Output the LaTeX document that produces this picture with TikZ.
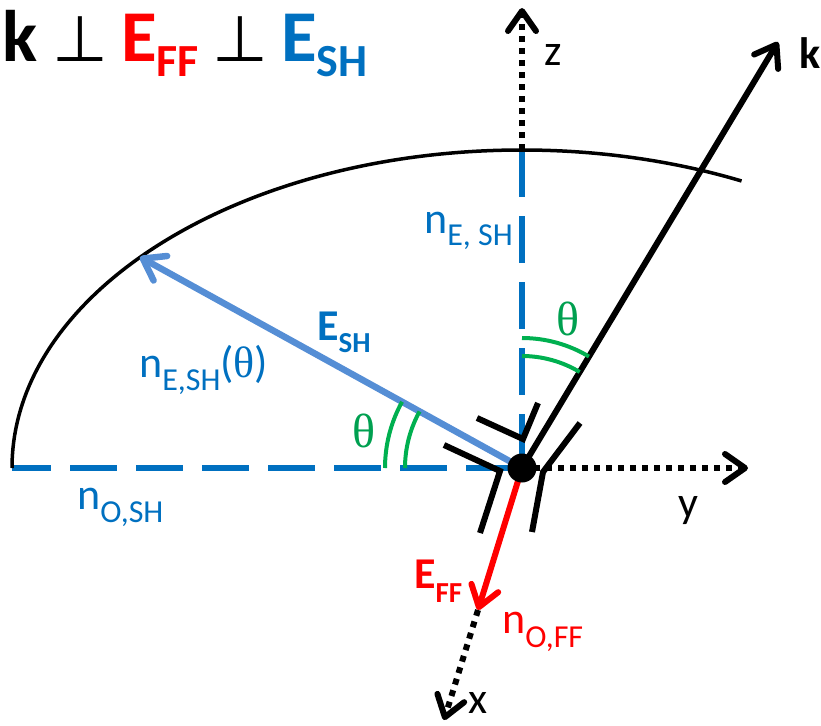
\documentclass[tikz,border=0pt]{standalone}
\usepackage{fontspec}
\setmainfont{Carlito}
\newfontfamily\thetafont{Liberation Serif}
\newfontfamily\symfont{DejaVu Sans}
\usetikzlibrary{arrows.meta}
\definecolor{shblue}{HTML}{0070C0}
\definecolor{esharrow}{HTML}{558ED5}
\definecolor{ffred}{HTML}{FF0000}
\definecolor{thgreen}{HTML}{00B050}
\definecolor{thtext}{HTML}{00A050}
\newcommand\sublab[3]{#1\raisebox{-#3pt}{\fontsize{32}{32}\selectfont #2}}
\newcommand\boldsub[3]{#1\raisebox{-#3pt}{\fontsize{29}{29}\selectfont #2}}
\newcommand\titlesub[2]{#1\raisebox{-16pt}{\fontsize{46}{46}\selectfont #2}}
\begin{document}
\begin{tikzpicture}[x=1pt,y=-1pt,
  tip/.style={-{Straight Barb[round,length=20pt,width=28pt]}},
  lbl/.style={inner sep=0pt, anchor=base west, font=\fontsize{44}{44}\selectfont},
  boldlbl/.style={lbl, font=\bfseries\fontsize{44}{44}\selectfont},
  titlelbl/.style={inner sep=0pt, anchor=base west, font=\bfseries\fontsize{73}{73}\selectfont},
  perplbl/.style={inner sep=0pt, anchor=base west, font=\symfont\fontsize{64}{64}\selectfont},
  thetalbl/.style={inner sep=0pt, anchor=base west, text=thtext, font=\thetafont\fontsize{48}{48}\selectfont},
  axisdot/.style={line width=6pt, dash pattern=on 6pt off 6pt, black},
  shdash/.style={line width=5.5pt, shblue, dash pattern=on 47pt off 19pt},
  thetaarc/.style={line width=4pt, thgreen},
  perpmark/.style={line width=6pt, black, line join=miter},
]
\useasboundingbox (0,0) rectangle (821,725);
% key points
\coordinate (O) at (522,468);
\coordinate (ztop) at (522,150);
\coordinate (ztip) at (522,8);
\coordinate (ytip) at (748,468);
\coordinate (xleft) at (12,468);
\coordinate (ktip) at (778,42);
\coordinate (eshtip) at (140,257);
\coordinate (efftip) at (478,610);
\coordinate (xtip) at (444,720);

% blue dashed index lines
\draw[shdash, dash phase=8pt] (xleft) -- (O);
\draw[shdash] (ztop) -- (O);
% index ellipse
\draw[line width=3.5pt] (xleft) arc[start angle=180, end angle=64.5, x radius=510pt, y radius=318pt];
% axes
\draw[axisdot, tip] (ztop) -- (ztip);
\draw[axisdot, tip] (O) -- (ytip);
\draw[axisdot, tip] (efftip) -- (xtip);
% vectors
\draw[tip, esharrow, line width=6.5pt] (O) -- (eshtip);
\draw[tip, line width=6pt] (O) -- (ktip);
\draw[tip, ffred, line width=6pt] (O) -- (efftip);
% theta arcs
\draw[thetaarc] (O) ++(180:137pt) arc[start angle=180, end angle=151.1, radius=137pt];
\draw[thetaarc] (O) ++(180:117pt) arc[start angle=180, end angle=151.1, radius=117pt];
\draw[thetaarc] (O) ++(90:130pt) arc[start angle=90, end angle=59, radius=130pt];
\draw[thetaarc] (O) ++(90:112pt) arc[start angle=90, end angle=59, radius=112pt];
% perpendicular marks
\draw[perpmark] (477,418) -- (523,439) -- (538,403);
\draw[perpmark] (444,445) -- (500,471) -- (480,533);
\draw[perpmark] (580,423) -- (543,472) -- (532,532);
% origin
\fill (O) circle (14.5pt);

% title
\node[titlelbl] (tk) at (2,61) {k};
\node[perplbl] (tp1) at (52,61) {⊥};
\node[titlelbl, text=ffred] (teff) at (121,61) {\titlesub{E}{FF}};
\node[perplbl] (tp2) at (212,61) {⊥};
\node[titlelbl, text=shblue] (tesh) at (281,61) {\titlesub{E}{SH}};

% labels
\node[lbl, text=shblue] (nesh) at (424,233) {\sublab{n}{E, SH}{12}};
\node[boldlbl, text=shblue] (eshl) at (317,340) {\boldsub{E}{SH}{12}};
\node[lbl, text=shblue] (neshth) at (139,377) {\sublab{n}{E,SH}{13}({\thetafont θ})};
\node[lbl, text=shblue] (nosh) at (77,509) {\sublab{n}{O,SH}{13}};
\node[boldlbl, text=ffred] (effl) at (414,588) {\boldsub{E}{FF}{14}};
\node[lbl, text=ffred] (noff) at (502,633) {\sublab{n}{O,FF}{14}};
\node[lbl] (zl) at (544,65) {z};
\node[lbl] (yl) at (678,517) {y};
\node[lbl] (xl) at (468,713) {x};
\node[boldlbl] (kl) at (799,68) {k};
\node[thetalbl] (th1) at (352,447) {θ};
\node[thetalbl] (th2) at (556,335) {θ};
\end{tikzpicture}
\end{document}
